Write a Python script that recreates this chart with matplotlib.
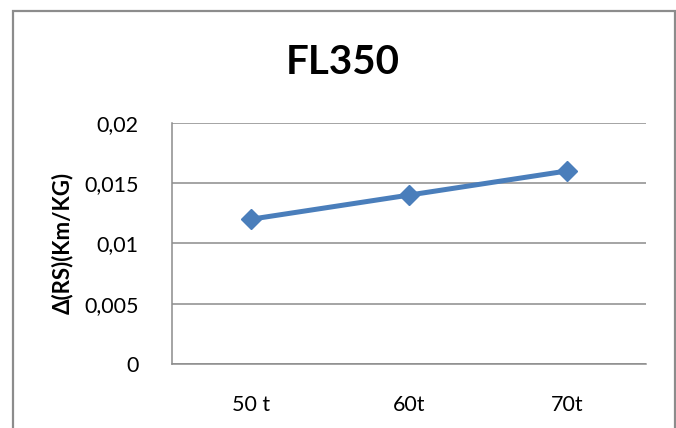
import matplotlib
matplotlib.use("Agg")
import matplotlib.pyplot as plt
from matplotlib.patches import Rectangle
from matplotlib.ticker import FixedLocator

plt.rcParams['font.family'] = ['Lato', 'DejaVu Sans']

categories = ["50 t", "60t", "70t"]
values = [0.012, 0.014, 0.016]
y_ticks = [0, 0.005, 0.01, 0.015, 0.02]
y_tick_labels = ["0", "0,005", "0,01", "0,015", "0,02"]

W, H = 676, 428
fig = plt.figure(figsize=(W / 100, H / 100), dpi=100)
fig.patch.set_facecolor("white")

# outer chart frame (bottom edge runs off the canvas)
fig.patches.append(Rectangle((13 / W, -0.05), (674.5 - 13) / W, 1 - 11 / H + 0.05,
                             transform=fig.transFigure, fill=False,
                             edgecolor="#8c8c8c", linewidth=1.6))

ax = fig.add_axes([172 / W, 1 - 364 / H, 474 / W, (364 - 122.7) / H])
x = list(range(len(categories)))
ax.plot(x, values, color="#4a7ebb", linewidth=3.6, marker="D", markersize=10.5,
        markerfacecolor="#4a7ebb", markeredgecolor="#4a7ebb", zorder=3)

ax.set_xlim(-0.5, len(categories) - 0.5)
ax.set_ylim(0, 0.02)
ax.yaxis.set_major_locator(FixedLocator(y_ticks))
ax.set_yticklabels(y_tick_labels)
ax.set_xticks(x)
ax.set_xticklabels(categories)
ax.tick_params(axis="both", length=0, labelsize=15.5, colors="black")
ax.tick_params(axis="y", pad=24)
ax.tick_params(axis="x", pad=22)

ax.grid(axis="y", color="#8c8c8c", linewidth=1.1)
ax.set_axisbelow(True)
for side in ("top", "right"):
    ax.spines[side].set_visible(False)
for side in ("left", "bottom"):
    ax.spines[side].set_color("#8c8c8c")
    ax.spines[side].set_linewidth(1.1)

ax.set_ylabel("Δ(RS)(Km/KG)", fontsize=16, fontweight="bold", labelpad=8)
fig.text(342.5 / W, 1 - 62.5 / H, "FL350", ha="center", va="center",
         fontsize=29, fontweight="bold")

fig.savefig("out.png", dpi=100)
